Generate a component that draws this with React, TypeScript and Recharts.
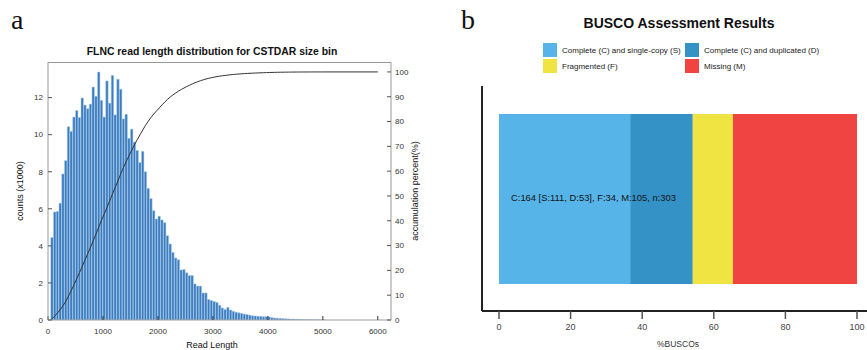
import React from "react";
import { ComposedChart, BarChart, Bar, Line, XAxis, YAxis } from "recharts";

// panel a: read counts (x1000) per 50 bp bin, first bin starts at 50 bp
const BIN_START = 50;
const BIN_WIDTH = 50;
const COUNTS = [
  4.45, 5.83, 5.86, 6.3, 7.88, 8.6, 10.43, 10.18, 10.95, 11.3,
  10.93, 11.98, 11.6, 11.4, 11.65, 12.57, 12.07, 13.38, 11.85, 10.95,
  12.9, 11.7, 13.2, 11.07, 12.99, 12.45, 10.85, 11.1, 9.8, 10.3,
  9.6, 9.15, 8.5, 9.1, 8.0, 7.1, 6.55, 5.9, 5.45, 5.6,
  5.4, 5.25, 4.55, 4.1, 3.65, 3.35, 3.25, 2.7, 2.73, 2.55,
  2.4, 2.4, 1.95, 1.83, 1.83, 1.46, 1.46, 1.11, 1.05, 1.0,
  0.95, 0.8, 0.65, 0.57, 0.68, 0.54, 0.47, 0.42, 0.39, 0.36,
  0.32, 0.3, 0.26, 0.23, 0.22, 0.2, 0.2, 0.18, 0.18, 0.17,
  0.13, 0.11, 0.1, 0.09, 0.08, 0.07, 0.06, 0.05, 0.05, 0.04,
  0.035, 0.03, 0.025, 0.02, 0.02, 0.015, 0.012, 0.01, 0.01, 0.008,
];
const LENGTH_TICKS = [0, 1000, 2000, 3000, 4000, 5000, 6000];
const COUNT_TICKS = [0, 2, 4, 6, 8, 10, 12];
const PERCENT_TICKS = [0, 10, 20, 30, 40, 50, 60, 70, 80, 90, 100];

// panel b: BUSCO
const BUSCO_KEYS = ["S", "D", "F", "M"];
const BUSCO_LABELS = [
  "Complete (C) and single-copy (S)",
  "Complete (C) and duplicated (D)",
  "Fragmented (F)",
  "Missing (M)",
];
const BUSCO_COUNTS = [111, 53, 34, 105];
const BUSCO_TOTAL = 303;
const BUSCO_COLORS = ["#56B4E9", "#3492C7", "#F0E442", "#F04442"];
const BUSCO_TICKS = [0, 20, 40, 60, 80, 100];

const SANS = "'Liberation Sans', Arial, sans-serif";
const SERIF = "'Liberation Serif', 'Times New Roman', serif";

const total = COUNTS.reduce((a, b) => a + b, 0);
let running = 0;
const histData: { len: number; count: number | null; cum: number }[] = COUNTS.map((c, i) => {
  const cum = ((running + c / 2) / total) * 100;
  running += c;
  return { len: BIN_START + i * BIN_WIDTH + BIN_WIDTH / 2, count: c, cum };
});
histData.push({ len: 6000, count: null, cum: 100 });

const buscoRow: Record<string, number | string> = { name: "busco" };
BUSCO_KEYS.forEach((k, i) => {
  buscoRow[k] = (BUSCO_COUNTS[i] / BUSCO_TOTAL) * 100;
});
const buscoData = [buscoRow];

const Txt = ({ x, y, children, size = 9, bold = false, rotate = 0, anchor = "middle", font = SANS, color = "#111" }: any) => {
  const tx = anchor === "middle" ? "-50%" : anchor === "end" ? "-100%" : "0";
  return (
    <div
      style={{
        position: "absolute",
        left: x,
        top: y,
        transform: `translate(${tx}, -50%) rotate(${rotate}deg)`,
        transformOrigin: anchor === "middle" ? "center" : "left center",
        whiteSpace: "nowrap",
        fontSize: size,
        fontWeight: bold ? 700 : 400,
        fontFamily: font,
        color,
        lineHeight: 1,
      }}
    >
      {children}
    </div>
  );
};

export default function App() {
  const sc = BUSCO_COUNTS[0] + BUSCO_COUNTS[1];
  const summary = `C:${sc} [S:${BUSCO_COUNTS[0]}, D:${BUSCO_COUNTS[1]}], F:${BUSCO_COUNTS[2]}, M:${BUSCO_COUNTS[3]}, n:${BUSCO_TOTAL}`;
  return (
    <div style={{ position: "absolute", left: 0, top: 0, width: 867, height: 350, background: "#fff", overflow: "hidden" }}>
      {/* panel a */}
      <div style={{ position: "absolute", left: 0, top: 0 }}>
        <ComposedChart width={440} height={350} data={histData} margin={{ top: 62, right: 9, bottom: 0, left: 0 }}>
          <XAxis
            dataKey="len"
            type="number"
            domain={[0, 6240]}
            allowDataOverflow
            ticks={LENGTH_TICKS}
            interval={0}
            height={30}
            tickSize={-4}
            tickMargin={12}
            tick={{ fontSize: 8, fill: "#333", fontFamily: SANS }}
            tickLine={{ stroke: "#333" }}
            axisLine={{ stroke: "#999" }}
          />
          <YAxis
            yAxisId="left"
            domain={[0, 13.92]}
            allowDataOverflow
            ticks={COUNT_TICKS}
            interval={0}
            width={48}
            tickSize={-4}
            tickMargin={9}
            tick={{ fontSize: 8, fill: "#333", fontFamily: SANS }}
            tickLine={{ stroke: "#555" }}
            axisLine={{ stroke: "#999" }}
          />
          <YAxis
            yAxisId="right"
            orientation="right"
            domain={[0, 104]}
            allowDataOverflow
            ticks={PERCENT_TICKS}
            interval={0}
            width={40}
            tickSize={-4}
            tickMargin={8}
            tick={{ fontSize: 8, fill: "#333", fontFamily: SANS, textAnchor: "start" }}
            tickLine={{ stroke: "#555" }}
            axisLine={{ stroke: "#999" }}
          />
          <Bar
            yAxisId="left"
            dataKey="count"
            barSize={2.75}
            fill="#3a7cbf"
            stroke="#b3d0ec"
            strokeWidth={0.5}
            isAnimationActive={false}
          />
          <Line
            yAxisId="right"
            dataKey="cum"
            type="monotone"
            stroke="#333"
            strokeWidth={1}
            dot={false}
            isAnimationActive={false}
          />
        </ComposedChart>
      </div>
      {/* plot frame, as R's box() */}
      <div style={{ position: "absolute", left: 48, top: 62, width: 343, height: 258, borderTop: "1px solid #999", pointerEvents: "none" }} />
      <Txt x={11} y={20} size={28} font={SERIF} anchor="start">a</Txt>
      <Txt x={212} y={52} size={10.4} bold>FLNC read length distribution for CSTDAR size bin</Txt>
      <Txt x={20} y={191} size={9} rotate={-90}>counts (x1000)</Txt>
      <Txt x={415} y={191} size={9} rotate={-90}>accumulation percent(%)</Txt>
      <Txt x={212} y={345} size={9}>Read Length</Txt>

      {/* panel b */}
      <div style={{ position: "absolute", left: 440, top: 0 }}>
        <BarChart width={427} height={350} data={buscoData} layout="vertical" margin={{ top: 86, right: 0, bottom: 0, left: 40 }}>
          <XAxis
            type="number"
            domain={[0, 100]}
            ticks={BUSCO_TICKS}
            interval={0}
            padding={{ left: 17, right: 10 }}
            height={39}
            tickSize={8}
            tickMargin={5}
            tick={{ fontSize: 9, fill: "#444", fontFamily: SANS }}
            tickLine={{ stroke: "#555", strokeWidth: 1.5 }}
            axisLine={{ stroke: "#222", strokeWidth: 2 }}
          />
          <YAxis
            type="category"
            dataKey="name"
            width={2}
            tick={false}
            tickLine={false}
            axisLine={{ stroke: "#222", strokeWidth: 2 }}
          />
          {BUSCO_KEYS.map((k, i) => (
            <Bar key={k} dataKey={k} stackId="busco" barSize={170} fill={BUSCO_COLORS[i]} isAnimationActive={false} />
          ))}
        </BarChart>
      </div>
      <Txt x={461} y={20} size={28} font={SERIF} anchor="start">b</Txt>
      <Txt x={679} y={23} size={14} bold>BUSCO Assessment Results</Txt>
      {BUSCO_LABELS.map((lab, i) => {
        const col = i % 2;
        const row = Math.floor(i / 2);
        const sx = col === 0 ? 543 : 685;
        const sy = row === 0 ? 43 : 59;
        return (
          <React.Fragment key={lab}>
            <div style={{ position: "absolute", left: sx, top: sy, width: 14, height: 14, background: BUSCO_COLORS[i] }} />
            <Txt x={sx + 19} y={sy + 7.5} size={8} anchor="start" color="#222">{lab}</Txt>
          </React.Fragment>
        );
      })}
      <Txt x={511} y={198} size={9.4} anchor="start" color="#111">{summary}</Txt>
      <Txt x={678} y={344} size={8.5} color="#333">%BUSCOs</Txt>
    </div>
  );
}
